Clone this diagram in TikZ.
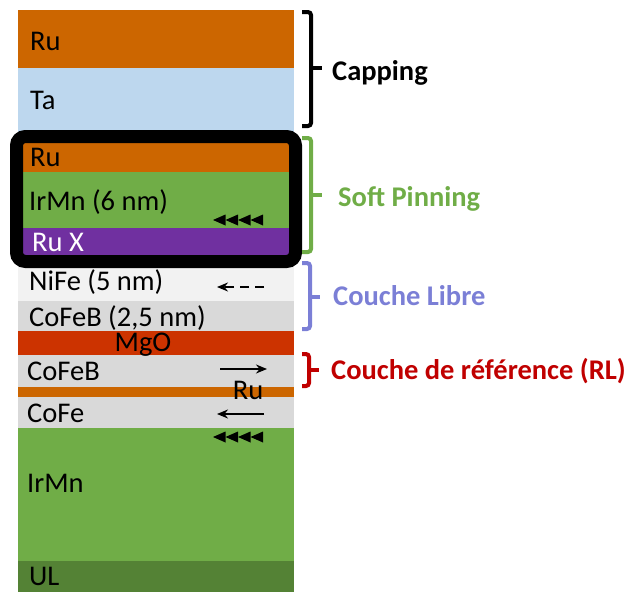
\documentclass[tikz,border=0pt]{standalone}
\usepackage{fontspec}
\setmainfont{Carlito}
\usetikzlibrary{arrows.meta}
\definecolor{ruC}{HTML}{CC6600}
\definecolor{taC}{HTML}{BDD7EE}
\definecolor{irC}{HTML}{70AD47}
\definecolor{rxC}{HTML}{7030A0}
\definecolor{nfC}{HTML}{F2F2F2}
\definecolor{cbC}{HTML}{D9D9D9}
\definecolor{mgC}{HTML}{CC3300}
\definecolor{ulC}{HTML}{548235}
\definecolor{spC}{HTML}{70AD47}
\definecolor{clC}{HTML}{7B7FD6}
\definecolor{rlC}{HTML}{C00000}
\begin{document}
\begin{tikzpicture}[x=1pt,y=-1pt,
  lbl/.style={anchor=west,inner sep=0pt,text height=17pt,text depth=0pt,font=\fontsize{28.5}{33}\selectfont},
  side/.style={anchor=west,inner sep=0pt,text height=17pt,text depth=0pt,font=\fontsize{28.5}{33}\selectfont\bfseries},
  brace/.style={line width=4pt,rounded corners=3pt},
  magarrow/.style={line width=1.8pt,-{Stealth[length=11pt,width=9pt]}},
  tri/.style={fill=black}
]
\useasboundingbox (0,0) rectangle (625,592);
% layers
\fill[ruC] (18,10) rectangle (294,68);
\fill[taC] (18,68) rectangle (294,136);
\fill[ruC] (18,136) rectangle (294,172);
\fill[irC] (18,172) rectangle (294,228);
\fill[rxC] (18,228) rectangle (294,262);
\fill[nfC] (18,262) rectangle (294,301);
\fill[cbC] (18,301) rectangle (294,331);
\fill[mgC] (18,331) rectangle (294,355);
\fill[cbC] (18,355) rectangle (294,387);
\fill[ruC] (18,387) rectangle (294,397);
\fill[cbC] (18,397) rectangle (294,428);
\fill[irC] (18,428) rectangle (294,561);
\fill[ulC] (18,561) rectangle (294,592);
% soft pinning frame
\draw[line width=13pt,rounded corners=9pt] (16.5,136.5) rectangle (295.5,261.5);
% layer labels
\node[lbl] (ru1) at (30,42) {Ru};
\node[lbl] (ta) at (30,101) {Ta};
\node[lbl] (ru2) at (30,158) {Ru};
\node[lbl] (irmn6) at (29,202) {IrMn (6 nm)};
\node[lbl,text=white] (rux) at (32,243) {Ru X};
\node[lbl] (nife) at (29,282) {NiFe (5 nm)};
\node[lbl] (cofeb1) at (29,318) {CoFeB (2,5 nm)};
\node[lbl,anchor=center] (mgo) at (143,343) {MgO};
\node[lbl] (cofeb2) at (27,372) {CoFeB};
\node[lbl,anchor=center] (ru3) at (248,391) {Ru};
\node[lbl] (cofe) at (27,414) {CoFe};
\node[lbl] (irmn) at (27,484) {IrMn};
\node[lbl] (ul) at (29,577) {UL};
% magnetization arrows
\coordinate (a1s) at (264,287); \coordinate (a1e) at (217,287);
\draw[magarrow,dash pattern=on 9pt off 6pt] (a1s) -- (a1e);
\coordinate (a2s) at (220,369); \coordinate (a2e) at (267,369);
\draw[magarrow] (a2s) -- (a2e);
\coordinate (a3s) at (264,414); \coordinate (a3e) at (217,414);
\draw[magarrow] (a3s) -- (a3e);
% pinning triangles
\foreach \i in {0,...,3} {
  \fill[tri] (213+12.5*\i,220) -- ++(12.5,-5.5) -- ++(0,11) -- cycle;
  \fill[tri] (213+12.5*\i,437) -- ++(12.5,-5.5) -- ++(0,11) -- cycle;
}
% braces
\draw[brace,black] (302,12) -- (311,12) -- (311,126) -- (302,126);
\draw[line width=4pt,black] (311,68) -- (322,68);
\node[side,text=black] (capping) at (332,72) {Capping};
\draw[brace,spC] (302,138) -- (311,138) -- (311,252) -- (302,252);
\draw[line width=4pt,spC] (311,195) -- (322,195);
\node[side,text=spC] (soft) at (338,198) {Soft Pinning};
\draw[brace,clC] (302,263) -- (310,263) -- (310,329) -- (302,329);
\draw[line width=4pt,clC] (310,297) -- (320,297);
\node[side,text=clC] (libre) at (333,297) {Couche Libre};
\draw[brace,rlC] (302,354) -- (309,354) -- (309,386) -- (302,386);
\draw[line width=4pt,rlC] (309,370) -- (319,370);
\node[side,text=rlC] (ref) at (331,371) {Couche de référence (RL)};
\end{tikzpicture}
\end{document}
